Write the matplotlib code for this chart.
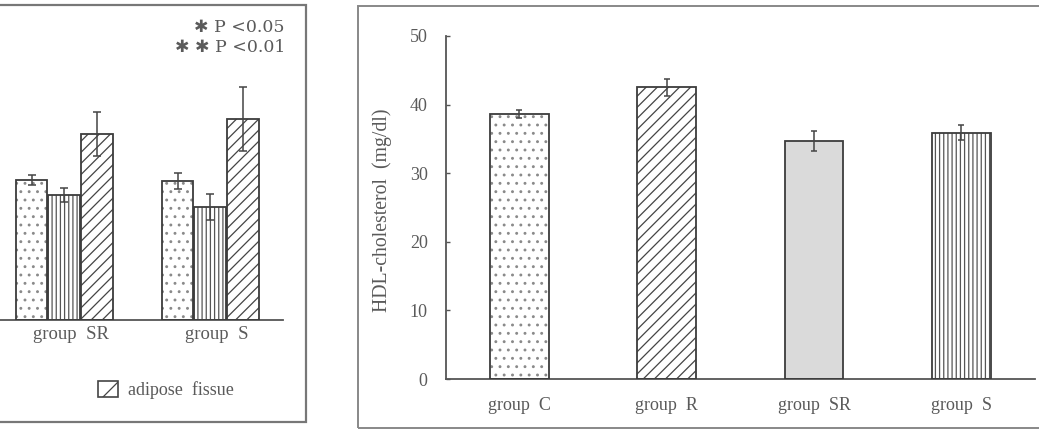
import numpy as np
import matplotlib
matplotlib.use("Agg")
import matplotlib.pyplot as plt
from matplotlib.patches import Rectangle, Patch

plt.rcParams['font.family'] = ['Liberation Serif', 'DejaVu Serif', 'Noto Sans CJK JP']
plt.rcParams['hatch.linewidth'] = 0.9

# left panel (cropped chart, y axis not visible)
left_groups = ['group  SR', 'group  S']
left_dotted = [49.4, 49.1]
left_dotted_err = [1.8, 2.8]
left_vline = [44.2, 40.0]
left_vline_err = [2.4, 4.5]
left_adipose = [65.7, 71.0]
left_adipose_err = [7.8, 11.4]
legend_label = 'adipose  fissue'
sig_lines = ['\u2731 P <0.05', '\u2731 \u2731 P <0.01']

# right panel
hdl_groups = ['group  C', 'group  R', 'group  SR', 'group  S']
hdl_mean = [38.6, 42.5, 34.7, 35.9]
hdl_err = [0.6, 1.3, 1.5, 1.1]
hdl_ticks = [0, 10, 20, 30, 40, 50]

EDGE = '#3c3c3c'
TXT = '#5a5a5a'
FS = 13
W, H = 1039, 430


def fx(px):
    return px / W


def fy(py):
    return 1 - py / H


def hbar(ax, x, h, width, hatch, hatch_col, face='white'):
    # hatch layer and outline layer so hatch can be lighter than edge
    ax.bar(x, h, width, color=face, edgecolor=hatch_col, hatch=hatch, linewidth=0, zorder=2)
    ax.bar(x, h, width, fill=False, edgecolor=EDGE, linewidth=1.3, zorder=3)


fig = plt.figure(figsize=(W / 100, H / 100), dpi=100)

# frames around both panels
fig.add_artist(Rectangle((fx(-6), fy(422)), fx(312), fy(5) - fy(422), transform=fig.transFigure,
                         fill=False, edgecolor='#777777', linewidth=1.6))
fig.add_artist(Rectangle((fx(358), fy(428)), fx(700), fy(6) - fy(428), transform=fig.transFigure,
                         fill=False, edgecolor='#888888', linewidth=1.4))

# ---------- left panel ----------
axl = fig.add_axes([fx(-9), fy(320), fx(292), fy(37) - fy(320)])
xl = np.arange(len(left_groups))
bw = 0.215
hbar(axl, xl - 0.222, left_dotted, bw, '..', '#8a8a8a')
hbar(axl, xl, left_vline, bw, '||||', '#555555')
hbar(axl, xl + 0.225, left_adipose, bw, '///', '#444444')
axl.errorbar(xl - 0.222, left_dotted, yerr=left_dotted_err, fmt='none', ecolor='#444444',
             elinewidth=1.1, capsize=2.6, capthick=1.1, zorder=4)
axl.errorbar(xl, left_vline, yerr=left_vline_err, fmt='none', ecolor='#444444',
             elinewidth=1.1, capsize=2.6, capthick=1.1, zorder=4)
axl.errorbar(xl + 0.225, left_adipose, yerr=left_adipose_err, fmt='none', ecolor='#444444',
             elinewidth=1.1, capsize=2.6, capthick=1.1, zorder=4)
axl.set_xlim(-0.5, 1.5)
axl.set_ylim(0, 100)
for s in ['top', 'right', 'left']:
    axl.spines[s].set_visible(False)
axl.spines['bottom'].set_color('#555555')
axl.spines['bottom'].set_linewidth(1.3)
axl.set_yticks([])
axl.set_xticks(xl + 0.045)
axl.set_xticklabels(left_groups, fontsize=FS + 0.5, color=TXT)
axl.tick_params(axis='x', length=0, pad=4)

for i, s in enumerate(sig_lines):
    fig.text(fx(285), fy(27 + 21 * i), s, ha='right', va='center', fontsize=FS - 0.5,
             color=TXT, family=['DejaVu Serif', 'DejaVu Sans'])

leg = fig.legend(handles=[Patch(facecolor='white', edgecolor='#444444', hatch='/', linewidth=1.2,
                                label=legend_label)],
                 loc='center left', bbox_to_anchor=(fx(98), fy(390)), frameon=False,
                 fontsize=FS, handlelength=1.1, handleheight=1.05, handletextpad=0.55,
                 borderpad=0, borderaxespad=0)
for t in leg.get_texts():
    t.set_color(TXT)

# ---------- right panel ----------
axr = fig.add_axes([fx(445.7), fy(379), fx(1035 - 445.7), fy(36) - fy(379)])
xr = np.arange(len(hdl_groups))
styles = [('..', '#8a8a8a', 'white'), ('///', '#444444', 'white'),
          ('', EDGE, '#dadada'), ('||||', '#555555', 'white')]
for i in range(len(hdl_groups)):
    hatch, hc, face = styles[i]
    hbar(axr, xr[i], hdl_mean[i], 0.40, hatch, hc, face)
axr.errorbar(xr, hdl_mean, yerr=hdl_err, fmt='none', ecolor='#444444',
             elinewidth=1.1, capsize=2.4, capthick=1.1, zorder=4)
axr.set_xlim(-0.5, 3.5)
axr.set_ylim(0, 50)
axr.spines['top'].set_visible(False)
axr.spines['right'].set_visible(False)
for s in ['left', 'bottom']:
    axr.spines[s].set_color('#555555')
    axr.spines[s].set_linewidth(1.3)
axr.set_yticks(hdl_ticks)
axr.set_yticklabels([str(v) for v in hdl_ticks], fontsize=FS, color=TXT)
axr.tick_params(axis='y', direction='in', length=3, width=1, color='#555555', pad=13)
axr.set_xticks(xr)
axr.set_xticklabels(hdl_groups, fontsize=FS, color=TXT)
axr.tick_params(axis='x', length=0, pad=13)
axr.set_ylabel('HDL-cholesterol  (mg/dl)', fontsize=FS + 1.2, color=TXT)
axr.yaxis.set_label_coords(-0.091, 0.493)

fig.savefig('out.png', dpi=100)
